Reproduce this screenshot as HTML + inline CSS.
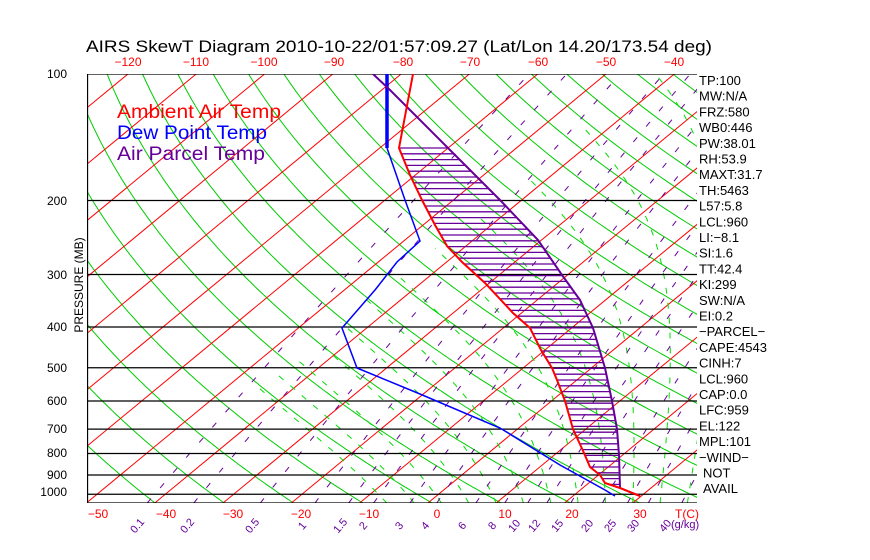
<!DOCTYPE html>
<html><head><meta charset="utf-8"><style>
html,body{margin:0;padding:0;background:#fff;width:870px;height:560px;overflow:hidden}
svg{display:block;font-family:"Liberation Sans",sans-serif}
</style></head><body>
<svg id="s" width="870" height="560" viewBox="0 0 870 560" xmlns="http://www.w3.org/2000/svg">
<defs><clipPath id="c"><rect x="87" y="74" width="610" height="429"/></clipPath></defs>
<text x="86" y="52" font-size="17" fill="#000" textLength="626" lengthAdjust="spacingAndGlyphs">AIRS SkewT Diagram 2010-10-22/01:57:09.27 (Lat/Lon 14.20/173.54 deg)</text>
<g id="plot" clip-path="url(#c)"></g>
<g font-size="19">
<text x="117" y="118" fill="#f00" textLength="164" lengthAdjust="spacingAndGlyphs">Ambient Air Temp</text>
<text x="117" y="139" fill="#00f" textLength="150" lengthAdjust="spacingAndGlyphs">Dew Point Temp</text>
<text x="117" y="160" fill="#609" textLength="148" lengthAdjust="spacingAndGlyphs">Air Parcel Temp</text>
</g>
<g font-size="12" text-anchor="end" fill="#000">
<text x="67" y="78">100</text><text x="67" y="205">200</text><text x="67" y="279">300</text>
<text x="67" y="331">400</text><text x="67" y="372">500</text><text x="67" y="405">600</text>
<text x="67" y="433">700</text><text x="67" y="457">800</text><text x="67" y="479">900</text>
<text x="67" y="496">1000</text>
</g>
<text transform="translate(83,285) rotate(-90)" font-size="12" text-anchor="middle">PRESSURE (MB)</text>
<g font-size="12" fill="#f00" text-anchor="middle">
<text x="128" y="66">−120</text><text x="196" y="66">−110</text><text x="264" y="66">−100</text>
<text x="334" y="66">−90</text><text x="403" y="66">−80</text><text x="470" y="66">−70</text>
<text x="538" y="66">−60</text><text x="606" y="66">−50</text><text x="674" y="66">−40</text>
<text x="98" y="518">−50</text><text x="166" y="518">−40</text><text x="233" y="518">−30</text>
<text x="301" y="518">−20</text><text x="369" y="518">−10</text><text x="437" y="518">0</text>
<text x="505" y="518">10</text><text x="572" y="518">20</text><text x="640" y="518">30</text>
<text x="687" y="518">T(C)</text>
</g>
<g id="wl" font-size="11" fill="#609"></g>
<g id="rt" font-size="13" fill="#000"></g>
</svg>
<script>
var NS="http://www.w3.org/2000/svg";
function el(t,a,p){var e=document.createElementNS(NS,t);for(var k in a)e.setAttribute(k,a[k]);(p||document.getElementById('plot')).appendChild(e);return e;}
function Y(p){return 74+182.5*Math.log(p/100);}
function X(T,p){return 428+6.83*T+1.211*(503-Y(p));}
function poly(pts,st){if(pts.length<2)return;el('polyline',Object.assign({points:pts.map(function(q){return q[0].toFixed(1)+','+q[1].toFixed(1)}).join(' '),fill:'none'},st));}
var P=[];for(var p=1050;p>=99;p-=5)P.push(p);
for(var th=200;th<=560;th+=10){poly(P.map(function(p){return [X(th*Math.pow(p/1000,0.286)-273.15,p),Y(p)]}),{stroke:'#0c0','stroke-width':1});}
for(var T=-170;T<=50;T+=10){poly([[X(T,1050),Y(1050)],[X(T,100),Y(100)]],{stroke:'#f00','stroke-width':1});}
function es(T){return 6.112*Math.exp(17.67*T/(T+243.5));}
for(var T0=-6;T0<=40;T0+=4){var T=T0,pts=[];for(var p=1050;p>=100;p-=5){if(T<-45)break;pts.push([X(T,p),Y(p)]);var Tk=T+273.15,e=es(T),rs=0.622*e/(p-e);var L=2.5e6,Rd=287,cp=1005;var dTdp=(Rd*Tk+L*rs)/(p*(cp+L*L*rs*0.622/(Rd*Tk*Tk)));T-=dTdp*5;}
poly(pts,{stroke:'#0d0','stroke-width':1,'stroke-dasharray':'6,9'});}
var W=[0.1,0.2,0.5,1,1.5,2,3,4,6,8,10,12,15,20,25,30,40];
W.forEach(function(w){var pts=[];for(var p=1050;p>=100;p-=10){var e=w*p/(622+w),l=Math.log(e/6.112);pts.push([X(243.5*l/(17.67-l),p),Y(p)]);}poly(pts,{stroke:'#609','stroke-width':1,'stroke-dasharray':'6,14'});});
[100,200,300,400,500,600,700,800,900,1000].forEach(function(p){el('line',{x1:87,x2:697,y1:Y(p),y2:Y(p),stroke:'#000','stroke-width':1.3});});
el('line',{x1:87,x2:697,y1:503,y2:503,stroke:'#000','stroke-width':1.3});
el('line',{x1:87.5,x2:87.5,y1:74,y2:503,stroke:'#000','stroke-width':1.3});
var red=[[413,74],[399,148],[410,175],[422,200],[435,225],[447,246],[462,262],[485,283],[513,313],[530,328],[541,350],[552,368],[557,380],[565,401],[573,429],[584,453],[590,467],[600,475],[605,483],[620,488],[640,496]];
var pur=[[373,74],[390,90],[420,120],[460,160],[500,200],[538,240],[562,275],[580,300],[593,328],[605,368],[612,401],[617,429],[619,455],[620,488],[640,496]];
var dew=[[387,148],[405,200],[420,241],[397,262],[375,290],[342,328],[357,368],[420,394],[500,428],[560,465],[605,490],[615,496]];
function interp(c,y){for(var i=0;i<c.length-1;i++){if(y>=c[i][1]&&y<=c[i+1][1]){var t=(y-c[i][1])/((c[i+1][1]-c[i][1])||1);return c[i][0]+t*(c[i+1][0]-c[i][0]);}}return null;}
for(var y=148;y<=490;y+=5.8){var a=interp(red,y),b=interp(pur,y);if(a!==null&&b!==null&&b>a)el('line',{x1:a,x2:b,y1:y,y2:y,stroke:'#609','stroke-width':1.3});}
poly(dew,{stroke:'#00f','stroke-width':1.5});
el('line',{x1:387,x2:387,y1:74,y2:148,stroke:'#00f','stroke-width':3.5});
poly(pur,{stroke:'#609','stroke-width':2});
poly(red,{stroke:'#f00','stroke-width':2});
var WL=[["0.1",140],["0.2",190],["0.5",255],["1",305],["1.5",343],["2",366],["3",402],["4",428],["6",465],["8",495],["10",517],["12",537],["15",560],["20",590],["25",613],["30",636],["40",668]];
var wl=document.getElementById('wl');
WL.forEach(function(q){var t=el('text',{transform:'translate('+q[1]+',528) rotate(-50)','text-anchor':'middle'},wl);t.textContent=q[0];});
var t=el('text',{x:671,y:528},wl);t.textContent="(g/kg)";
var R=["TP:100","MW:N/A","FRZ:580","WB0:446","PW:38.01","RH:53.9","MAXT:31.7","TH:5463","L57:5.8","LCL:960","LI:−8.1","SI:1.6","TT:42.4","KI:299","SW:N/A","EI:0.2","−PARCEL−","CAPE:4543","CINH:7","LCL:960","CAP:0.0","LFC:959","EL:122","MPL:101","−WIND−","NOT","AVAIL"];
var rt=document.getElementById('rt');
R.forEach(function(s,i){var x=699;if(s=="NOT"||s=="AVAIL")x=703;var t=el('text',{x:x,y:85+i*15.7},rt);t.textContent=s;});
</script>
</body></html>
